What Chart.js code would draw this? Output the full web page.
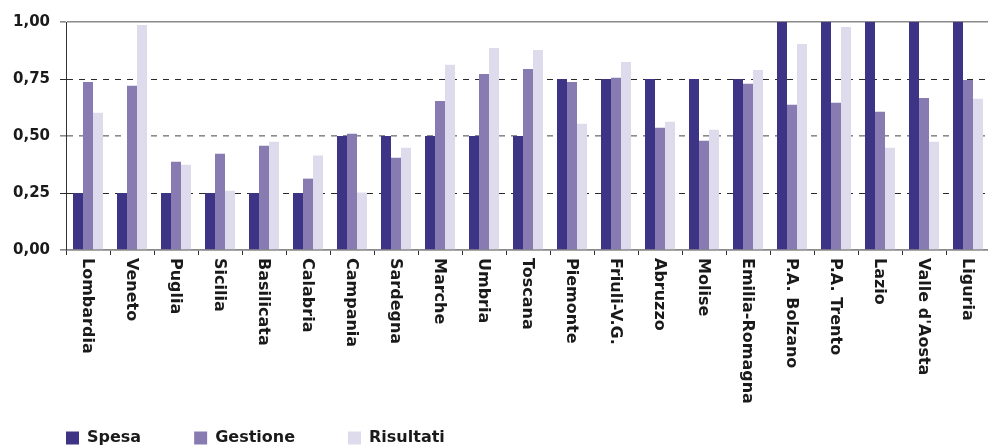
<!DOCTYPE html>
<html>
<head>
<meta charset="utf-8">
<script src="https://cdn.jsdelivr.net/npm/chart.js@4/dist/chart.umd.min.js"></script>
<style>
  html, body { margin: 0; padding: 0; background: #fff; overflow: hidden; }
  #wrap { width: 988px; height: 445px; overflow: hidden; position: relative; }
  #c { position: absolute; left: 0; top: 0; }
</style>
</head>
<body>
<div id="wrap"><canvas id="c" width="990" height="456"></canvas></div>
<script>
const regioni = ['Lombardia', 'Veneto', 'Puglia', 'Sicilia', 'Basilicata', 'Calabria', 'Campania',
  'Sardegna', 'Marche', 'Umbria', 'Toscana', 'Piemonte', 'Friuli-V.G.', 'Abruzzo', 'Molise',
  'Emilia-Romagna', 'P.A. Bolzano', 'P.A. Trento', 'Lazio', "Valle d'Aosta", 'Liguria'];

const spesa     = [0.25, 0.25, 0.25, 0.25, 0.25, 0.25, 0.50, 0.50, 0.50, 0.50, 0.50,
                   0.75, 0.75, 0.75, 0.75, 0.75, 1.00, 1.00, 1.00, 1.00, 1.00];
const gestione  = [0.737, 0.720, 0.387, 0.422, 0.457, 0.313, 0.510, 0.405, 0.654, 0.772, 0.794,
                   0.737, 0.755, 0.536, 0.479, 0.729, 0.637, 0.646, 0.606, 0.667, 0.746];
const risultati = [0.602, 0.987, 0.374, 0.260, 0.475, 0.414, 0.252, 0.449, 0.812, 0.886, 0.877,
                   0.554, 0.825, 0.562, 0.527, 0.790, 0.904, 0.978, 0.449, 0.475, 0.663];

const yTicks = [0, 0.25, 0.5, 0.75, 1];

const FONT = '"DejaVu Sans", sans-serif';

// Category names are written top-to-bottom under each group
const verticalLabels = {
  id: 'verticalLabels',
  afterDraw(chart) {
    const x = chart.scales.x;
    const ctx = chart.ctx;
    ctx.save();
    ctx.font = 'bold 16px ' + FONT;
    ctx.fillStyle = '#1a1a1a';
    ctx.textAlign = 'left';
    ctx.textBaseline = 'middle';
    chart.data.labels.forEach((lab, i) => {
      const px = x.getPixelForTick(i);
      ctx.save();
      ctx.translate(px - 1, x.top + 8);
      ctx.rotate(Math.PI / 2);
      ctx.fillText(lab, 0, 0);
      ctx.restore();
    });
    ctx.restore();
  }
};

function gridColor(c) {
  const v = c.tick ? c.tick.value : null;
  if (v === 0.25 || v === 0.75) return '#2a2a2a';
  return '#8a8a8a';
}

new Chart(document.getElementById('c'), {
  type: 'bar',
  data: {
    labels: regioni,
    datasets: [
      { label: 'Spesa', data: spesa, backgroundColor: '#3d3486' },
      { label: 'Gestione', data: gestione, backgroundColor: '#877bb2' },
      { label: 'Risultati', data: risultati, backgroundColor: '#dddbec' }
    ]
  },
  options: {
    responsive: false,
    animation: false,
    devicePixelRatio: 1,
    layout: { padding: { left: 13, right: 0, top: 22, bottom: 0 } },
    datasets: { bar: { categoryPercentage: 30 / 44, barPercentage: 1.0, borderWidth: 0 } },
    plugins: {
      tooltip: { enabled: false },
      legend: {
        position: 'bottom',
        align: 'start',
        labels: {
          boxWidth: 13,
          boxHeight: 13,
          padding: 53,
          color: '#1a1a1a',
          font: { family: FONT, size: 16, weight: 'bold' }
        }
      }
    },
    scales: {
      x: {
        offset: true,
        grid: { offset: true, drawOnChartArea: false, drawTicks: true, tickLength: 5, tickColor: '#333', tickWidth: 1 },
        border: { display: true, color: '#8a8a8a', width: 1.5 },
        ticks: { display: false },
        afterFit(s) { s.height = 127; }
      },
      y: {
        min: 0,
        max: 1,
        afterBuildTicks(s) { s.ticks = yTicks.map(v => ({ value: v })); },
        grid: {
          color: gridColor,
          tickColor: gridColor,
          lineWidth: c => (c.tick && (c.tick.value === 0.5 || c.tick.value === 1 || c.tick.value === 0)) ? 1.6 : 1,
          tickLength: 6
        },
        border: {
          display: true,
          color: '#333',
          width: 1,
          dash: c => (c.tick && (c.tick.value === 0.25 || c.tick.value === 0.5 || c.tick.value === 0.75)) ? [6, 6] : []
        },
        ticks: {
          padding: 10,
          color: '#1a1a1a',
          font: { family: FONT, size: 15, weight: 'bold' },
          callback: v => Number(v).toFixed(2).replace('.', ',')
        },
        afterFit(s) { s.width = 53; }
      }
    }
  },
  plugins: [verticalLabels]
});
</script>
</body>
</html>
